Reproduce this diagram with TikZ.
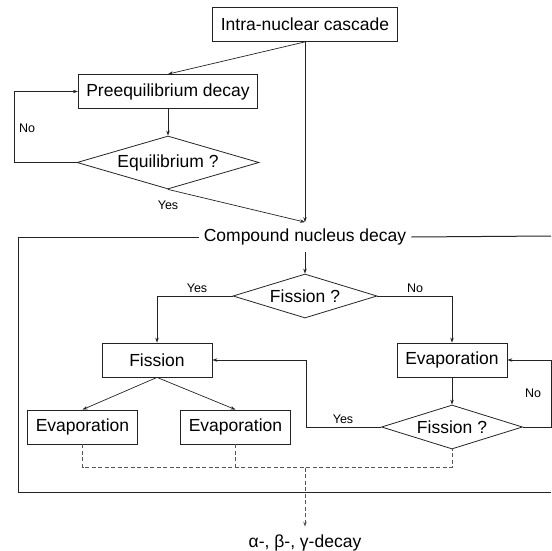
\documentclass[tikz,border=0pt]{standalone}
\usepackage{xcolor}
\usepackage{fontspec}
\setmainfont{Liberation Sans}
\usepackage{tikz}
\usetikzlibrary{positioning, arrows.meta, shapes}
\definecolor{inkgray}{RGB}{35,35,35}
\definecolor{dashgray}{RGB}{85,85,85}

\tikzset{
    stage/.style={draw=inkgray, line width=0.8pt, minimum width=110pt, minimum height=34pt,
                  inner xsep=8pt, font=\fontsize{17.5}{21}\selectfont},
    decision/.style={draw=inkgray, line width=0.8pt, diamond, aspect=3.2, inner sep=0pt,
                     minimum width=144pt, minimum height=44pt, font=\fontsize{17.5}{21}\selectfont},
    answer/.style={font=\fontsize{12.5}{15}\selectfont},
    flow/.style={draw=inkgray, line width=0.7pt, -{Stealth[length=5pt, width=3.5pt]}},
    collect/.style={draw=dashgray, line width=0.8pt, dash pattern=on 4pt off 2.5pt},
    frame/.style={draw=inkgray, line width=1pt}
}

\begin{document}
\begin{tikzpicture}[x=1pt, y=-1pt]
    \useasboundingbox (0,0) rectangle (551,551);

    \node[stage] (cascade) at (305,24.5) {Intra-nuclear cascade};
    \node[stage] (preeq) at (168,91.5) {Preequilibrium decay};
    \node[decision, minimum width=182pt, minimum height=53pt] (equil) at (168,162.5) {Equilibrium ?};

    \node[inner xsep=5pt, inner ysep=6.5pt, font=\fontsize{17.5}{21}\selectfont] (compound) at (305,237) {Compound nucleus decay};
    \node[decision] (fisq) at (305,296) {Fission ?};
    \node[stage] (fission) at (157,360) {Fission};
    \node[stage] (evapR) at (452,360) {Evaporation};
    \node[stage] (evapL) at (82.5,427) {Evaporation};
    \node[stage] (evapM) at (235.5,427) {Evaporation};
    \node[decision, minimum width=141pt] (fisq2) at (452,427) {Fission ?};
    \node[inner ysep=8pt, font=\fontsize{17.5}{21}\selectfont] (decay) at (305,543) {α-, β-, γ-decay};

    % frame round the compound nucleus stage
    \coordinate (tr) at (551,236);
    \coordinate (bl) at (18.3,492);
    \coordinate (br) at (551,492);
    \draw[frame] (compound.west) -| (bl) -- (br);
    \draw[frame] (compound.east) -- (tr);

    \draw[flow] (cascade.south) -- (preeq.north);
    \draw[flow] (cascade.south) -- (compound.north);
    \draw[flow] (preeq) -- (equil);
    \draw[flow] (equil.west) -- ++(-62,0) |- (preeq.west);
    \draw[flow] (equil.south) -- (compound.north);
    \node[answer] (no1) at (27,128) {No};
    \node[answer] (yes1) at (168,205) {Yes};

    \draw[flow] (compound.south) -- (fisq.north);
    \draw[flow] (fisq.west) -| (fission.north);
    \draw[flow] (fisq.east) -| (evapR.north);
    \node[answer] (yes2) at (197,288) {Yes};
    \node[answer] (no2) at (415,288) {No};

    \draw[flow] (fission.south) -- (evapL.north);
    \draw[flow] (fission.south) -- (evapM.north);
    \draw[flow] (evapR) -- (fisq2);
    \draw[flow] (fisq2.west) -- ++(-75,0) |- (fission.east);
    \draw[flow] (fisq2.east) -- ++(28,0) |- (evapR.east);
    \node[answer] (yes3) at (343,419) {Yes};
    \node[answer] (no3) at (533,393) {No};

    % everything ends in the de-excitation
    \coordinate (merge) at (305,467.5);
    \draw[collect] (evapL.south) |- (merge) -| (fisq2.south);
    \draw[collect] (evapM.south) -- (evapM.south |- merge);
    \draw[collect, -{Stealth[length=5pt, width=3.5pt]}] (merge) -- (decay.north);
\end{tikzpicture}
\end{document}
